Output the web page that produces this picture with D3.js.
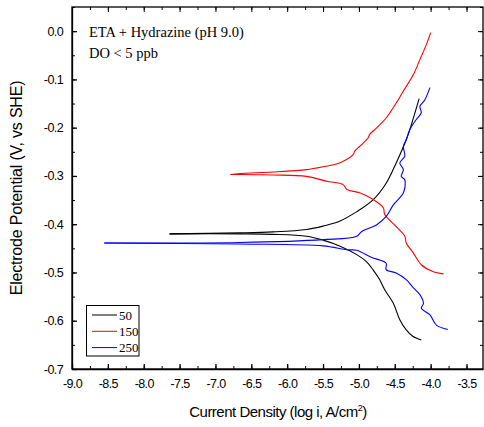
<!DOCTYPE html>
<html>
<head>
<meta charset="utf-8">
<script src="https://cdn.jsdelivr.net/npm/d3@7"></script>
<style>
  body { margin: 0; background: #fff; }
  .tick text { font-family: "Liberation Sans", Arial, sans-serif; }
</style>
</head>
<body>
<div id="chart"></div>
<script>
// series: [log i, E (V vs SHE)]
var seriesNames = ['50', '150', '250'];
var seriesColors = ['#000000', '#ff0000', '#0000ff'];

var black50Anodic = [
  [-7.64, -0.420], [-6.66, -0.418], [-6.20, -0.416], [-5.73, -0.411], [-5.50, -0.404],
  [-5.27, -0.394], [-5.03, -0.374], [-4.80, -0.349], [-4.62, -0.315], [-4.48, -0.273],
  [-4.34, -0.225], [-4.29, -0.204], [-4.16, -0.140]
];
var black50Cathodic = [
  [-7.64, -0.420], [-6.66, -0.420], [-6.20, -0.421], [-5.73, -0.425], [-5.50, -0.433],
  [-5.27, -0.445], [-5.03, -0.463], [-4.90, -0.477], [-4.80, -0.495], [-4.71, -0.515],
  [-4.64, -0.536], [-4.52, -0.564], [-4.43, -0.598], [-4.34, -0.619], [-4.25, -0.632],
  [-4.13, -0.640]
];
var red150Anodic = [
  [-6.79, -0.297], [-6.66, -0.295], [-6.20, -0.292], [-5.73, -0.287], [-5.50, -0.281],
  [-5.27, -0.273], [-5.08, -0.256], [-5.06, -0.249], [-4.99, -0.239], [-4.94, -0.232],
  [-4.87, -0.221], [-4.85, -0.214], [-4.75, -0.200], [-4.62, -0.180], [-4.48, -0.149],
  [-4.38, -0.124], [-4.24, -0.090], [-4.15, -0.059], [-4.06, -0.028], [-4.00, -0.003]
];
var red150Cathodic = [
  [-6.79, -0.297], [-6.66, -0.297], [-6.20, -0.298], [-5.73, -0.301], [-5.45, -0.311],
  [-5.22, -0.318], [-5.17, -0.328], [-4.99, -0.335], [-4.80, -0.349], [-4.66, -0.366],
  [-4.64, -0.380], [-4.48, -0.405], [-4.36, -0.425], [-4.34, -0.439], [-4.24, -0.460],
  [-4.13, -0.484], [-3.97, -0.498], [-3.82, -0.503]
];
var blue250Anodic = [
  [-8.55, -0.439], [-6.66, -0.438], [-5.50, -0.432], [-5.03, -0.425], [-4.96, -0.415],
  [-4.75, -0.401], [-4.62, -0.384], [-4.52, -0.360], [-4.38, -0.335], [-4.36, -0.308],
  [-4.41, -0.301], [-4.38, -0.287], [-4.43, -0.273], [-4.36, -0.259], [-4.38, -0.239],
  [-4.34, -0.225], [-4.29, -0.204], [-4.20, -0.183], [-4.13, -0.169], [-4.15, -0.156],
  [-4.08, -0.142], [-4.01, -0.117]
];
var blue250Cathodic = [
  [-8.55, -0.439], [-6.66, -0.441], [-5.50, -0.445], [-5.17, -0.453], [-5.03, -0.454],
  [-4.85, -0.467], [-4.80, -0.470], [-4.62, -0.481], [-4.62, -0.494], [-4.48, -0.501],
  [-4.34, -0.515], [-4.24, -0.532], [-4.15, -0.546], [-4.10, -0.564], [-4.13, -0.574],
  [-4.01, -0.588], [-3.92, -0.609], [-3.76, -0.618]
];

var xTicks = [-9.0, -8.5, -8.0, -7.5, -7.0, -6.5, -6.0, -5.5, -5.0, -4.5, -4.0, -3.5];
var yTicks = [0.0, -0.1, -0.2, -0.3, -0.4, -0.5, -0.6, -0.7];

var curves = [
  { data: black50Anodic, color: seriesColors[0] },
  { data: black50Cathodic, color: seriesColors[0] },
  { data: red150Anodic, color: seriesColors[1] },
  { data: red150Cathodic, color: seriesColors[1] },
  { data: blue250Anodic, color: seriesColors[2] },
  { data: blue250Cathodic, color: seriesColors[2] }
];

var W = 484, H = 427;
var pLeft = 72, pRight = 483, pTop = 7, pBottom = 369;

var svg = d3.select('#chart').append('svg')
  .attr('width', W)
  .attr('height', H);

var x = d3.scaleLinear().domain([-9, -3.27]).range([pLeft, pRight]);
var y = d3.scaleLinear().domain([-0.7, 0.05]).range([pBottom, pTop]);

var minorX = d3.range(-9, -3.26, 0.25);
var minorY = d3.range(-0.7, 0.051, 0.05);

// hyphen minus like the original
var fmt = function(v) { return d3.format('.1f')(v).replace('\u2212', '-'); };

// frame
svg.append('rect')
  .attr('x', pLeft).attr('y', pTop)
  .attr('width', pRight - pLeft).attr('height', pBottom - pTop)
  .attr('fill', 'none').attr('stroke', '#000').attr('stroke-width', 1.3);

// bottom axis
var gx = svg.append('g')
  .attr('transform', 'translate(0,' + pBottom + ')')
  .call(d3.axisBottom(x).tickValues(xTicks).tickFormat(fmt).tickSizeInner(-5).tickSizeOuter(0).tickPadding(10));
gx.select('.domain').attr('stroke-width', 1.3);
gx.selectAll('.tick line').attr('stroke-width', 1.3);
gx.selectAll('.tick text').attr('font-size', 12.5).attr('letter-spacing', -0.6);
svg.append('g')
  .attr('transform', 'translate(0,' + pBottom + ')')
  .call(d3.axisBottom(x).tickValues(minorX).tickFormat('').tickSizeInner(-3).tickSizeOuter(0))
  .select('.domain').remove();

// top axis
svg.append('g')
  .attr('transform', 'translate(0,' + pTop + ')')
  .call(d3.axisTop(x).tickValues(xTicks).tickFormat('').tickSizeInner(-5).tickSizeOuter(0))
  .select('.domain').remove();
svg.append('g')
  .attr('transform', 'translate(0,' + pTop + ')')
  .call(d3.axisTop(x).tickValues(minorX).tickFormat('').tickSizeInner(-3).tickSizeOuter(0))
  .select('.domain').remove();

// left axis
var gy = svg.append('g')
  .attr('transform', 'translate(' + pLeft + ',0)')
  .call(d3.axisLeft(y).tickValues(yTicks).tickFormat(fmt).tickSizeInner(-5).tickSizeOuter(0).tickPadding(9));
gy.select('.domain').attr('stroke-width', 1.3);
gy.selectAll('.tick line').attr('stroke-width', 1.3);
gy.selectAll('.tick text').attr('font-size', 12.5).attr('letter-spacing', -0.6);
svg.append('g')
  .attr('transform', 'translate(' + pLeft + ',0)')
  .call(d3.axisLeft(y).tickValues(minorY).tickFormat('').tickSizeInner(-3).tickSizeOuter(0))
  .select('.domain').remove();

// right axis
svg.append('g')
  .attr('transform', 'translate(' + pRight + ',0)')
  .call(d3.axisRight(y).tickValues(yTicks).tickFormat('').tickSizeInner(-5).tickSizeOuter(0))
  .select('.domain').remove();
svg.append('g')
  .attr('transform', 'translate(' + pRight + ',0)')
  .call(d3.axisRight(y).tickValues(minorY).tickFormat('').tickSizeInner(-3).tickSizeOuter(0))
  .select('.domain').remove();

// curves
var line = d3.line()
  .curve(d3.curveCatmullRom.alpha(0.5))
  .x(function(d) { return x(d[0]); })
  .y(function(d) { return y(d[1]); });

svg.append('g').selectAll('path.curve')
  .data(curves)
  .enter().append('path')
  .attr('class', 'curve')
  .attr('d', function(d) { return line(d.data); })
  .attr('fill', 'none')
  .attr('stroke', function(d) { return d.color; })
  .attr('stroke-width', 1.1);

// annotation
var serif = '"Liberation Serif", "Times New Roman", serif';
svg.append('text')
  .attr('x', 89).attr('y', 37)
  .attr('font-family', serif).attr('font-size', 14.5)
  .text('ETA + Hydrazine (pH 9.0)');
svg.append('text')
  .attr('x', 89).attr('y', 58)
  .attr('font-family', serif).attr('font-size', 14.5)
  .text('DO < 5 ppb');

// legend
var lg = svg.append('g');
lg.append('rect')
  .attr('x', 86.5).attr('y', 305.5)
  .attr('width', 52.5).attr('height', 50.5)
  .attr('fill', '#fff').attr('stroke', '#000').attr('stroke-width', 1);
var rows = lg.selectAll('g.row')
  .data(seriesNames)
  .enter().append('g')
  .attr('class', 'row')
  .attr('transform', function(d, i) { return 'translate(0,' + (315 + i * 16.3) + ')'; });
rows.append('line')
  .attr('x1', 92).attr('x2', 117)
  .attr('stroke', function(d, i) { return seriesColors[i]; })
  .attr('stroke-width', 1);
rows.append('text')
  .attr('x', 119).attr('y', 4.5)
  .attr('font-family', serif).attr('font-size', 13)
  .text(function(d) { return d; });

// axis titles
var sans = '"Liberation Sans", Arial, sans-serif';
var xt = svg.append('text')
  .attr('x', 278).attr('y', 417)
  .attr('text-anchor', 'middle')
  .attr('font-family', sans).attr('font-size', 15).attr('letter-spacing', -0.5);
xt.append('tspan').text('Current Density (log i, A/cm');
xt.append('tspan').attr('font-size', 9).attr('dy', -6).text('2');
xt.append('tspan').attr('dy', 6).text(')');

svg.append('text')
  .attr('transform', 'translate(22,188) rotate(-90)')
  .attr('text-anchor', 'middle')
  .attr('font-family', sans).attr('font-size', 16).attr('letter-spacing', -0.2)
  .text('Electrode Potential (V, vs SHE)');
</script>
</body>
</html>
